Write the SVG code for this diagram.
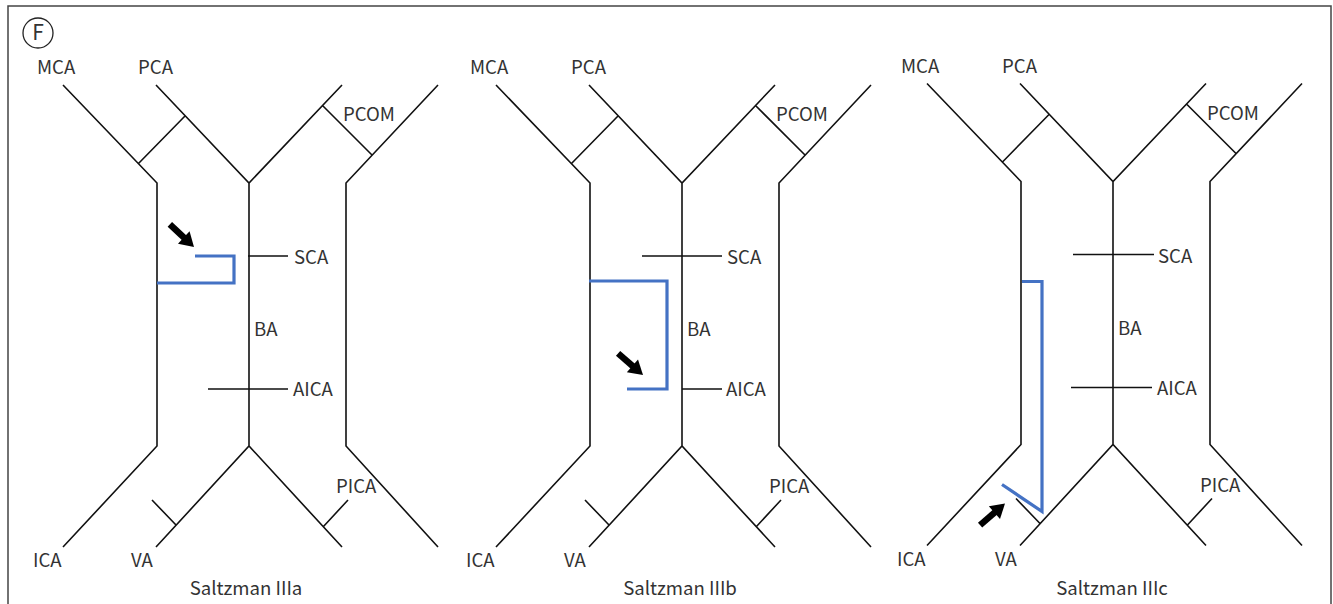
<svg xmlns="http://www.w3.org/2000/svg" xmlns:xlink="http://www.w3.org/1999/xlink" width="1333" height="604" viewBox="0 0 1333 604">
  <style>
    .v { fill: none; stroke: #111; stroke-width: 1.6; stroke-linejoin: miter; }
    .blue { fill: none; stroke: #4472c4; stroke-width: 3.2; stroke-linejoin: miter; }
    .lbl { font-family: "Noto Sans CJK SC", "Noto Sans", sans-serif; font-size: 18.6px; fill: #333; }
    .cap { text-anchor: middle; }
  </style>
  <defs>
    <g id="arrow">
      <line x1="-33" y1="0" x2="-10" y2="0" stroke="#000" stroke-width="6.5"/>
      <polygon points="0,0 -14,-8.5 -14,8.5" fill="#000"/>
    </g>
    <path id="skel" class="v" d="M63,85 L157,183 V446 L63,547 M138,164 L185,116 M156,85 L249,183 L342,85 M249,183 V446 M156,547 L249,446 L342,547 M438,85 L346,183 V446 L438,547 M323,106 L372,155 M152,500 L176,525 M323,527 L348,500"/>
    <g id="labels" class="lbl">
      <text x="37" y="74">MCA</text>
      <text x="138" y="74">PCA</text>
      <text x="343" y="121">PCOM</text>
      <text x="294" y="264">SCA</text>
      <text x="254" y="336">BA</text>
      <text x="293" y="396">AICA</text>
      <text x="336" y="493">PICA</text>
      <text x="33" y="567">ICA</text>
      <text x="131" y="567">VA</text>
    </g>
  </defs>

  <path id="frame" d="M8,604 V6 H1331 V604" fill="none" stroke="#444" stroke-width="1.5"/>
  <g id="panel-label">
    <circle cx="38" cy="33" r="15" fill="none" stroke="#222" stroke-width="1.3"/>
    <text x="38" y="40" class="lbl cap" style="font-size:21px">F</text>
  </g>

  <g id="panel-a">
    <use xlink:href="#skel"/>
    <use xlink:href="#labels"/>
    <path class="v" d="M248,256 H288 M208,389 H288"/>
    <path class="blue" d="M195,256 H234 V283 H157"/>
    <use xlink:href="#arrow" transform="translate(194,247) rotate(43)"/>
    <text x="246" y="595" class="lbl cap">Saltzman IIIa</text>
  </g>

  <g id="panel-b" transform="translate(433,0)">
    <use xlink:href="#skel"/>
    <use xlink:href="#labels"/>
    <path class="v" d="M209,256 H289 M249,389 H289"/>
    <path class="blue" d="M156,281 H234 V389 H194"/>
    <use xlink:href="#arrow" transform="translate(210,375) rotate(41)"/>
    <text x="247" y="595" class="lbl cap">Saltzman IIIb</text>
  </g>

  <g id="panel-c" transform="translate(864,-1.5)">
    <use xlink:href="#skel"/>
    <use xlink:href="#labels"/>
    <path class="v" d="M209,256 H290 M207,389 H288"/>
    <path class="blue" d="M158,283 H178 V513 L138,486"/>
    <use xlink:href="#arrow" transform="translate(141,505) rotate(-41)"/>
    <text x="248" y="596.5" class="lbl cap">Saltzman IIIc</text>
  </g>
</svg>
